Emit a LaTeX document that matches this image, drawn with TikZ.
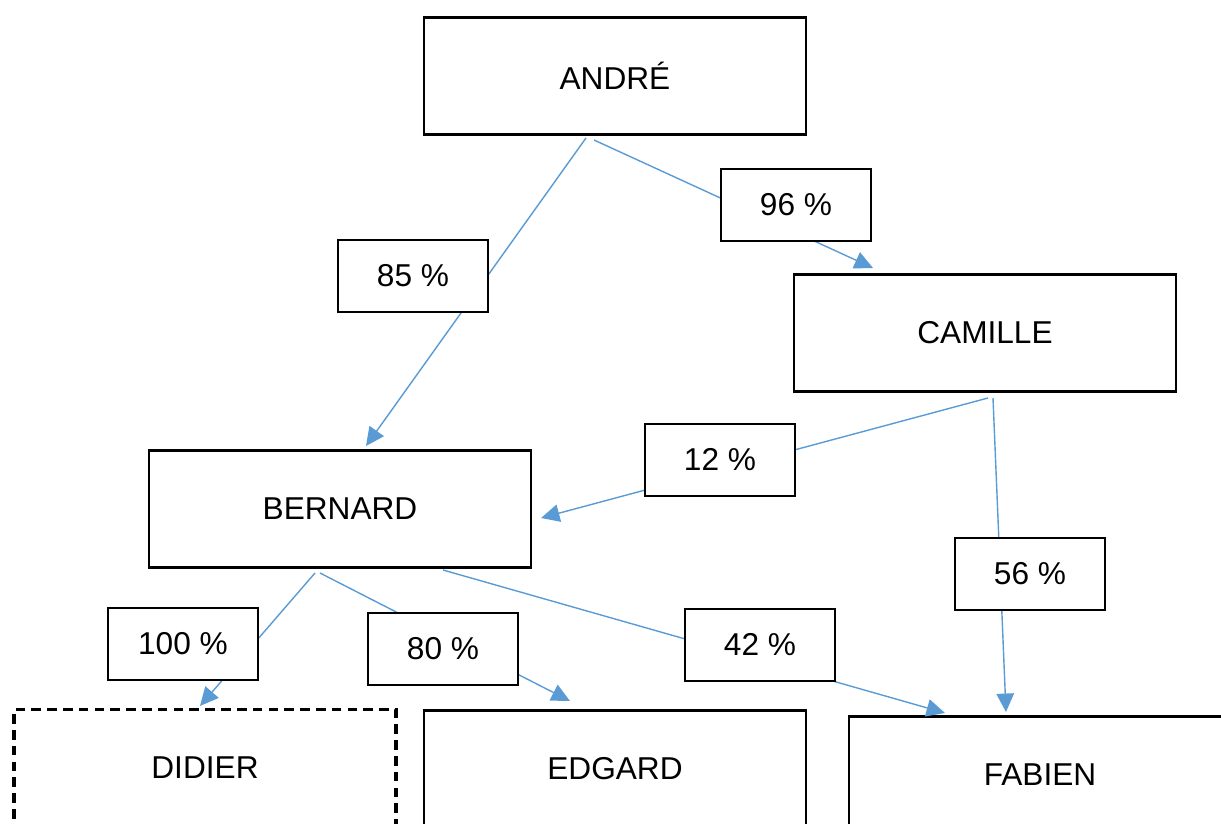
\documentclass[tikz,border=0pt]{standalone}
\usepackage{fontspec}
\setmainfont{Liberation Sans}
\usepackage{tikz}
\usetikzlibrary{arrows.meta, positioning, calc}
\definecolor{linkblue}{RGB}{91,155,213}
\tikzset{
>={Triangle[length=10.5pt,width=10pt]},
box/.style={%
    rectangle,
    minimum width=7.64cm,
    minimum height=2.34cm,
    draw=black,
    line width=1.6pt,
    font=\fontsize{18}{22}\selectfont
},
gonebox/.style={%
    box, line width=1.8pt, dash pattern=on 5.5pt off 3.5pt
},
pct/.style={%
    rectangle,
    minimum width=3cm,
    minimum height=1.44cm,
    draw=black, fill=white,
    line width=1.6pt,
    font=\fontsize{18}{22}\selectfont
},
link/.style={->, draw=linkblue, line width=0.8pt},
}

\begin{document}
\begin{tikzpicture}[x=0.02cm, y=-0.02cm]
	\useasboundingbox (0,0) rectangle (1221,824);
	\clip (0,0) rectangle (1221,824);
	\node[box] (andre) at (615,76) {ANDRÉ};
	\node[box] (camille) at (985,333) {CAMILLE};
	\node[box] (bernard) at (340,509) {BERNARD};
	\node[gonebox] (didier) at (205,768) {DIDIER};
	\node[box] (edgard) at (615,769) {EDGARD};
	\node[box] (fabien) at (1040,775) {FABIEN};

	% start and end points of the links
	\coordinate (a1) at (586,138);
	\coordinate (a2) at (594,140);
	\coordinate (c1) at (988,398);
	\coordinate (c2) at (993,398);
	\coordinate (b1) at (315,573);
	\coordinate (b2) at (320,573);
	\coordinate (b3) at (443,570);
	\coordinate (inB) at (366,446);
	\coordinate (inB2) at (541,518);
	\coordinate (inC) at (873,268);
	\coordinate (inD) at (200,706);
	\coordinate (inE) at (570,701);
	\coordinate (inF) at (945,713);
	\coordinate (inF2) at (1006,712);

	\draw[link] (a1) -- (inB);
	\draw[link] (a2) -- (inC);
	\draw[link] (c1) -- (inB2);
	\draw[link] (c2) -- (inF2);
	\draw[link] (b1) -- (inD);
	\draw[link] (b2) -- (inE);
	\draw[link] (b3) -- (inF);

	\node[pct] (p96) at (796,205) {96 \%};
	\node[pct] (p85) at (413,276) {85 \%};
	\node[pct] (p12) at (720,460) {12 \%};
	\node[pct] (p56) at (1030,574) {56 \%};
	\node[pct] (p100) at (183,644) {100 \%};
	\node[pct] (p80) at (443,649) {80 \%};
	\node[pct] (p42) at (760,645) {42 \%};
\end{tikzpicture}
\end{document}
